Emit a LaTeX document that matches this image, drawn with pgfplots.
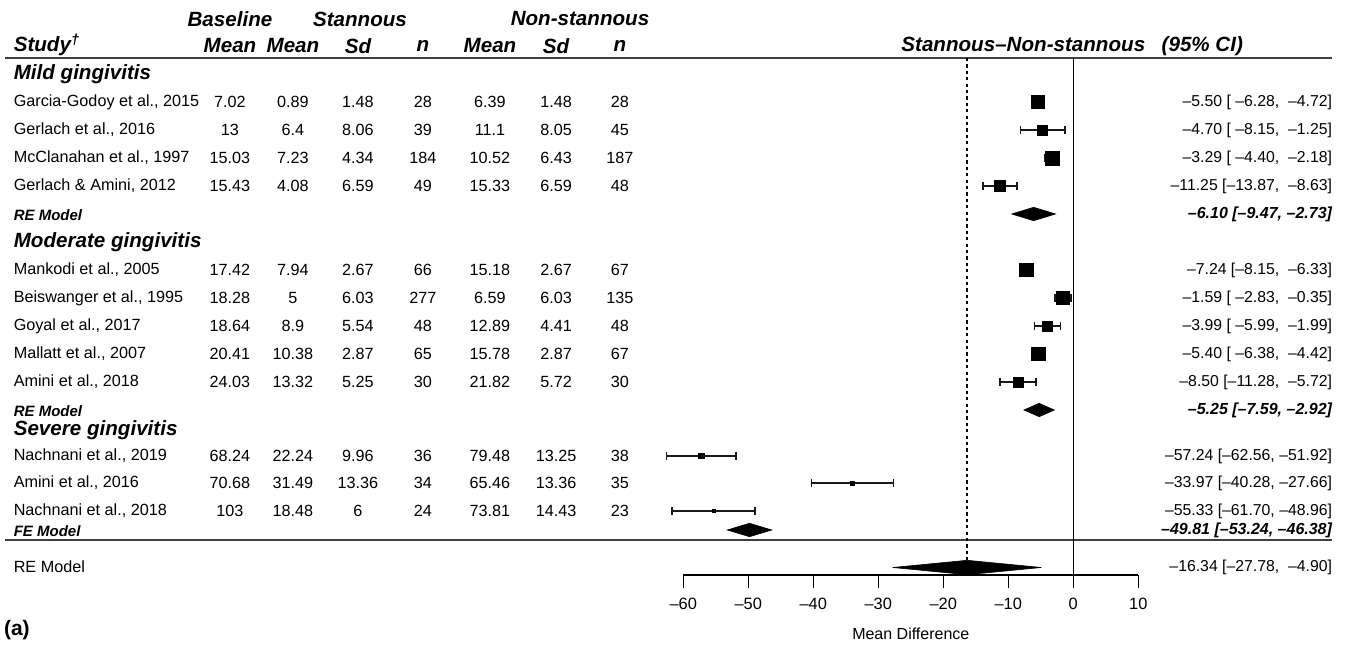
\documentclass[border=0pt]{standalone}
\usepackage{fontspec}
\setmainfont{Liberation Sans}
\usepackage{pgfplots}
\usepackage{pgfplotstable}
\pgfplotsset{compat=1.18}

% study estimates: y (row position, px from top), estimate, 95% CI, marker half-size (pt)
\pgfplotstableread{
y   est     lo      hi      s
102 -5.50   -6.28   -4.72   3.15
130 -4.70   -8.15   -1.25   2.5
158 -3.29   -4.40   -2.18   3.5
186 -11.25  -13.87  -8.63   2.7
270 -7.24   -8.15   -6.33   3.3
298 -1.59   -2.83   -0.35   3.2
326 -3.99   -5.99   -1.99   2.55
354 -5.40   -6.38   -4.42   3.4
382 -8.50   -11.28  -5.72   2.5
456 -57.24  -62.56  -51.92  1.3
483 -33.97  -40.28  -27.66  0.95
511 -55.33  -61.70  -48.96  0.9
}\studies

\newcommand\bodyfont{\fontsize{8.1}{9.7}\selectfont}
\newcommand\cifont{\fontsize{7.9}{9.5}\selectfont}
\newcommand\hdrfont{\fontsize{10.3}{12.4}\selectfont\bfseries\itshape}
\newcommand\secfont{\fontsize{10.3}{12.4}\selectfont\bfseries\itshape}
\newcommand\modfont{\fontsize{7.5}{9}\selectfont\bfseries\itshape}
\newcommand\modcifont{\fontsize{8}{9.6}\selectfont\bfseries\itshape}

\tikzset{txt/.style={inner sep=0pt, outer sep=0pt}}

% one study row: y, name, 7 columns
\newcommand\studyrow[9]{%
  \node[txt,anchor=west,font=\bodyfont] at (axis cs:-163.0,#1) {#2};
  \node[txt,font=\bodyfont] at (axis cs:-129.74,#1) {#3};
  \node[txt,font=\bodyfont] at (axis cs:-120.05,#1) {#4};
  \node[txt,font=\bodyfont] at (axis cs:-110.05,#1) {#5};
  \node[txt,font=\bodyfont] at (axis cs:-100.05,#1) {#6};
  \node[txt,font=\bodyfont] at (axis cs:-89.74,#1) {#7};
  \node[txt,font=\bodyfont] at (axis cs:-79.58,#1) {#8};
  \node[txt,font=\bodyfont] at (axis cs:-69.74,#1) {#9};
}
\newcommand\citext[2]{\node[txt,anchor=east,font=\cifont] at (axis cs:39.8,#1) {#2};}
\newcommand\cibold[2]{\node[txt,anchor=east,font=\modcifont] at (axis cs:39.8,#1) {#2};}

\begin{document}
\begin{tikzpicture}
\begin{axis}[
  name=main,
  scale only axis, width=672.5pt, height=323pt,
  xmin=-165.12, xmax=41.8, ymin=0, ymax=646, y dir=reverse,
  hide axis, clip=false,
]
\path (rel axis cs:0,0) rectangle (rel axis cs:1,1);

% rules
\addplot[black!75, line width=1.2pt] coordinates {(-164.35,58) (39.8,58)};
\addplot[black!75, line width=1.2pt] coordinates {(-164.35,540) (39.8,540)};
% reference lines
\addplot[black, line width=0.8pt] coordinates {(0,58) (0,575)};
\addplot[black, line width=0.8pt, dash pattern=on 1.6pt off 1.6pt] coordinates {(-16.34,58) (-16.34,560)};

% whisker end caps
\addplot[black!90, only marks, mark=|, mark size=2.1pt, mark options={line width=0.8pt}]
  table[x=lo, y=y] {\studies};
\addplot[black!90, only marks, mark=|, mark size=2.1pt, mark options={line width=0.8pt}]
  table[x=hi, y=y] {\studies};
% weighted squares with confidence intervals
\addplot[scatter, only marks, mark=square*,
  scatter/use mapped color={draw=black, fill=black},
  mark options={line width=0.3pt},
  visualization depends on={\thisrow{s}\as\ms},
  scatter/@pre marker code/.append style={/tikz/mark size=\ms},
  error bars/.cd, x dir=both, x explicit, error mark=none,
  error bar style={line width=0.8pt, draw=black!90}]
  table[x=est, y=y, meta=s, x error plus expr=\thisrow{hi}-\thisrow{est},
        x error minus expr=\thisrow{est}-\thisrow{lo}] {\studies};

% summary diamonds
\addplot[fill=black, draw=black, line width=0.3pt] coordinates {(-9.47,214) (-6.10,207.3) (-2.73,214) (-6.10,220.7)} -- cycle;
\addplot[fill=black, draw=black, line width=0.3pt] coordinates {(-7.59,410) (-5.25,403.3) (-2.92,410) (-5.25,416.7)} -- cycle;
\addplot[fill=black, draw=black, line width=0.3pt] coordinates {(-53.24,530) (-49.81,523.3) (-46.38,530) (-49.81,536.7)} -- cycle;
\addplot[fill=black, draw=black, line width=0.3pt] coordinates {(-27.78,567.5) (-16.34,560.3) (-4.90,567.5) (-16.34,574.7)} -- cycle;

% headers
\node[txt,font=\hdrfont] at (axis cs:-129.74,19) {Baseline};
\node[txt,font=\hdrfont] at (axis cs:-109.74,19) {Stannous};
\node[txt,font=\hdrfont] at (axis cs:-75.89,19) {Non-stannous};
\node[txt,anchor=west,font=\hdrfont] at (axis cs:-163.0,45) {Study\textsuperscript{†}};
\node[txt,font=\hdrfont] at (axis cs:-129.74,46) {Mean};
\node[txt,font=\hdrfont] at (axis cs:-120.05,46) {Mean};
\node[txt,font=\hdrfont] at (axis cs:-110.05,46) {Sd};
\node[txt,font=\hdrfont] at (axis cs:-100.05,46) {n};
\node[txt,font=\hdrfont] at (axis cs:-89.74,46) {Mean};
\node[txt,font=\hdrfont] at (axis cs:-79.58,46) {Sd};
\node[txt,font=\hdrfont] at (axis cs:-69.74,46) {n};
\node[txt,anchor=east,font=\hdrfont] at (axis cs:26.1,46) {Stannous–Non-stannous\hspace{0.8em}(95\% CI)};

% sections
\node[txt,anchor=west,font=\secfont] at (axis cs:-163.0,74) {Mild gingivitis};
\node[txt,anchor=west,font=\secfont] at (axis cs:-163.0,242) {Moderate gingivitis};
\node[txt,anchor=west,font=\secfont] at (axis cs:-163.0,430) {Severe gingivitis};

\studyrow{102}{Garcia-Godoy et al., 2015}{7.02}{0.89}{1.48}{28}{6.39}{1.48}{28}
\studyrow{130}{Gerlach et al., 2016}{13}{6.4}{8.06}{39}{11.1}{8.05}{45}
\studyrow{158}{McClanahan et al., 1997}{15.03}{7.23}{4.34}{184}{10.52}{6.43}{187}
\studyrow{186}{Gerlach \& Amini, 2012}{15.43}{4.08}{6.59}{49}{15.33}{6.59}{48}
\studyrow{270}{Mankodi et al., 2005}{17.42}{7.94}{2.67}{66}{15.18}{2.67}{67}
\studyrow{298}{Beiswanger et al., 1995}{18.28}{5}{6.03}{277}{6.59}{6.03}{135}
\studyrow{326}{Goyal et al., 2017}{18.64}{8.9}{5.54}{48}{12.89}{4.41}{48}
\studyrow{354}{Mallatt et al., 2007}{20.41}{10.38}{2.87}{65}{15.78}{2.87}{67}
\studyrow{382}{Amini et al., 2018}{24.03}{13.32}{5.25}{30}{21.82}{5.72}{30}
\studyrow{456}{Nachnani et al., 2019}{68.24}{22.24}{9.96}{36}{79.48}{13.25}{38}
\studyrow{483}{Amini et al., 2016}{70.68}{31.49}{13.36}{34}{65.46}{13.36}{35}
\studyrow{511}{Nachnani et al., 2018}{103}{18.48}{6}{24}{73.81}{14.43}{23}

\node[txt,anchor=west,font=\modfont] at (axis cs:-163.0,215) {RE Model};
\node[txt,anchor=west,font=\modfont] at (axis cs:-163.0,411) {RE Model};
\node[txt,anchor=west,font=\modfont] at (axis cs:-163.0,531) {FE Model};
\node[txt,anchor=west,font=\bodyfont] at (axis cs:-163.0,567) {RE Model};
\node[txt,anchor=west,font=\fontsize{10.5}{12.6}\selectfont\bfseries] at (axis cs:-164.5,630) {(a)};

\citext{102}{–5.50 [ –6.28,\ \ –4.72]}
\citext{130}{–4.70 [ –8.15,\ \ –1.25]}
\citext{158}{–3.29 [ –4.40,\ \ –2.18]}
\citext{186}{–11.25 [–13.87,\ \ –8.63]}
\cibold{214}{–6.10 [–9.47, –2.73]}
\citext{270}{–7.24 [–8.15,\ \ –6.33]}
\citext{298}{–1.59 [ –2.83,\ \ –0.35]}
\citext{326}{–3.99 [ –5.99,\ \ –1.99]}
\citext{354}{–5.40 [ –6.38,\ \ –4.42]}
\citext{382}{–8.50 [–11.28,\ \ –5.72]}
\cibold{410}{–5.25 [–7.59, –2.92]}
\citext{456}{–57.24 [–62.56, –51.92]}
\citext{483}{–33.97 [–40.28, –27.66]}
\citext{511}{–55.33 [–61.70, –48.96]}
\cibold{530}{–49.81 [–53.24, –46.38]}
\citext{567}{–16.34 [–27.78,\ \ –4.90]}
\end{axis}

\begin{axis}[
  at={(341.65pt,35.5pt)}, anchor=south west,
  scale only axis, width=227.5pt, height=10pt,
  xmin=-60, xmax=10, ymin=0, ymax=1,
  axis x line=bottom, axis y line=none,
  x axis line style={-, line width=0.8pt},
  xtick={-60,-50,-40,-30,-20,-10,0,10},
  xticklabels={–60,–50,–40,–30,–20,–10,0,10},
  tick align=outside, major tick length=6.5pt,
  tick style={line width=0.8pt, black},
  xticklabel style={font=\fontsize{8.2}{9.8}\selectfont, yshift=-1.5pt},
  xlabel={Mean Difference},
  xlabel style={font=\fontsize{8}{9.6}\selectfont, yshift=-2.5pt},
]
\end{axis}
\end{tikzpicture}
\end{document}
